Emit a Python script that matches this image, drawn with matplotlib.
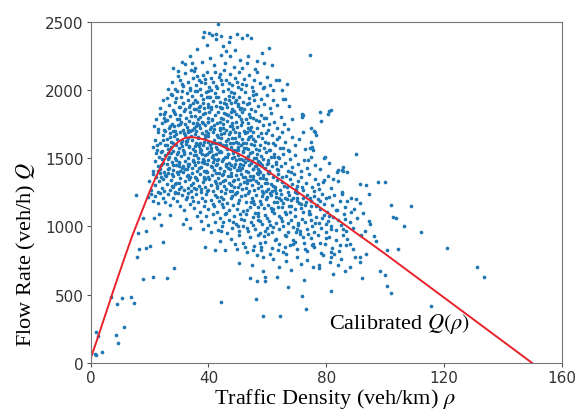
import numpy as np
import matplotlib
matplotlib.use("Agg")
import matplotlib.pyplot as plt

plt.rcParams["mathtext.fontset"] = "stix"

# calibrated fundamental diagram Q(rho)
curve_rho = [0, 2, 5, 8, 11, 14, 17, 20, 22, 24, 26, 28, 30, 32, 34, 36, 38, 40, 43, 46,
             50, 54, 58, 62, 66, 70, 75, 80, 85, 90, 95, 100, 110, 120, 130, 140, 150]
curve_q = [35, 160, 355, 550, 740, 925, 1090, 1255, 1355, 1445, 1525, 1585, 1625, 1648, 1655, 1650, 1640, 1628, 1605, 1575,
           1535, 1490, 1438, 1378, 1318, 1258, 1183, 1108, 1033, 955, 878, 800, 640, 480, 320, 160, 0]

# observed (density, flow) points, grouped by flow band
top_pts = [(43.1, 2483), (38.5, 2427), (40.2, 2415), (41.3, 2400), (42.4, 2410), (44.3, 2398), (42.7, 2376),
           (47.3, 2388), (47.1, 2352), (49.8, 2410), (51.3, 2384), (53.0, 2402), (54.5, 2380), (38.0, 2385),
           (46.0, 2288), (44.3, 2256), (33.7, 2248), (37.7, 2207), (40.5, 2232), (47.3, 2252), (50.7, 2222),
           (53.0, 2200), (31.1, 2203), (60.6, 2306), (74.5, 2256), (58.1, 2270), (53.5, 2250), (59.0, 2195),
           (55.8, 2155), (32.0, 2188), (29.5, 2142), (35.6, 2160), (42.0, 2180), (45.5, 2195), (48.8, 2170),
           (51.5, 2160), (36.2, 2300), (39.5, 2330), (45.0, 2322), (49.0, 2290), (56.5, 2215), (61.5, 2180),
           (34.5, 2195), (27.8, 2160)]

band_2000 = [(26.2, 2010), (27.5, 2060), (28.6, 2007), (29.8, 2100), (30.3, 2073), (31.5, 2030), (32.2, 2125),
             (33.0, 2055), (33.8, 2012), (34.6, 2090), (35.2, 2140), (35.9, 2040), (36.7, 2075), (37.3, 2005),
             (38.1, 2112), (38.8, 2050), (39.4, 2135), (40.1, 2020), (40.9, 2085), (41.6, 2060), (42.3, 2130),
             (43.0, 2015), (43.7, 2098), (44.5, 2045), (45.2, 2145), (45.9, 2070), (46.6, 2010), (47.4, 2115),
             (48.1, 2035), (48.9, 2090), (49.6, 2060), (50.4, 2128), (51.2, 2005), (52.0, 2080), (52.9, 2040),
             (53.8, 2110), (54.7, 2020), (55.6, 2075), (56.6, 2135), (57.5, 2050), (58.6, 2012), (59.8, 2095),
             (61.0, 2040), (61.8, 2000), (63.0, 2073), (63.9, 2073), (64.9, 2000), (66.8, 2044), (36.0, 2100),
             (41.0, 2000), (44.0, 2118), (47.0, 2050), (50.0, 2025), (39.0, 2080), (34.0, 2145)]

band_1850 = [(23.5, 1870), (24.6, 1925), (25.8, 1941), (26.5, 1890), (27.2, 1968), (27.9, 1855), (28.7, 1915),
             (29.4, 1990), (30.0, 1872), (30.7, 1948), (31.3, 1905), (32.0, 1862), (32.6, 1978), (33.2, 1925),
             (33.9, 1888), (34.5, 1955), (35.0, 1858), (35.6, 1995), (36.2, 1910), (36.8, 1875), (37.4, 1962),
             (38.0, 1932), (38.6, 1868), (39.1, 1985), (39.7, 1900), (40.3, 1945), (40.9, 1860), (41.5, 1922),
             (42.1, 1975), (42.7, 1885), (43.3, 1952), (43.9, 1910), (44.5, 1865), (45.1, 1992), (45.7, 1935),
             (46.3, 1878), (46.9, 1958), (47.5, 1902), (48.1, 1862), (48.7, 1978), (49.3, 1930), (49.9, 1885),
             (50.5, 1950), (51.1, 1868), (51.8, 1915), (52.5, 1982), (53.2, 1895), (53.9, 1940), (54.6, 1862),
             (55.4, 1925), (56.2, 1970), (57.0, 1880), (57.9, 1935), (58.8, 1900), (59.8, 1962), (60.9, 1870),
             (62.0, 1925), (63.3, 1888), (65.4, 1934), (66.0, 1934), (67.4, 1885), (31.0, 1995), (37.0, 1880),
             (40.0, 1990), (44.0, 1872), (47.0, 1925), (50.0, 1900), (35.3, 1930), (42.5, 1950), (38.3, 1902),
             (46.0, 1898), (52.0, 1858), (29.0, 1940), (33.5, 1872), (55.0, 1995), (39.5, 1950)]

band_1700 = [(21.6, 1738), (22.3, 1790), (22.9, 1712), (23.5, 1825), (24.1, 1760), (24.8, 1705), (25.4, 1842),
             (26.0, 1778), (26.5, 1722), (27.1, 1808), (27.6, 1750), (28.2, 1835), (28.7, 1702), (29.2, 1785),
             (29.8, 1740), (30.3, 1820), (30.8, 1765), (31.3, 1710), (31.8, 1848), (32.3, 1795), (32.8, 1728),
             (33.3, 1772), (33.8, 1835), (34.3, 1705), (34.8, 1755), (35.3, 1812), (35.8, 1738), (36.3, 1790),
             (36.8, 1845), (37.3, 1718), (37.8, 1768), (38.3, 1825), (38.8, 1745), (39.3, 1702), (39.8, 1798),
             (40.3, 1840), (40.8, 1732), (41.3, 1780), (41.8, 1712), (42.3, 1818), (42.8, 1760), (43.3, 1842),
             (43.8, 1725), (44.3, 1792), (44.8, 1748), (45.3, 1830), (45.8, 1705), (46.3, 1775), (46.8, 1815),
             (47.3, 1738), (47.8, 1800), (48.3, 1715), (48.8, 1848), (49.3, 1762), (49.8, 1728), (50.3, 1808),
             (50.9, 1745), (51.5, 1835), (52.1, 1702), (52.7, 1785), (53.3, 1758), (53.9, 1822), (54.5, 1732),
             (55.1, 1798), (55.8, 1845), (56.5, 1718), (57.2, 1775), (57.9, 1815), (58.7, 1742), (59.5, 1795),
             (60.3, 1708), (61.2, 1830), (62.2, 1762), (63.3, 1725), (64.5, 1805), (65.8, 1748), (67.2, 1712),
             (68.5, 1790), (71.7, 1824), (71.7, 1799), (77.9, 1836), (78.2, 1770), (81.0, 1848), (81.6, 1855),
             (80.7, 1824), (72.0, 1817), (75.0, 1719), (33.0, 1705), (36.0, 1760), (39.0, 1830), (42.0, 1745),
             (45.0, 1785), (48.0, 1760), (51.0, 1790), (54.0, 1705), (30.0, 1790), (27.0, 1738), (25.0, 1798),
             (44.0, 1710), (40.0, 1768), (37.0, 1800), (35.0, 1725)]

band_1550 = [(21.3, 1580), (21.9, 1635), (22.5, 1560), (23.0, 1690), (23.6, 1612), (24.1, 1552), (24.7, 1668),
             (25.2, 1595), (25.8, 1640), (26.3, 1570), (26.8, 1685), (27.3, 1618), (27.9, 1555), (28.4, 1662),
             (28.9, 1598), (29.4, 1642), (29.9, 1575), (30.4, 1695), (30.9, 1625), (31.4, 1558), (31.9, 1672),
             (32.4, 1605), (32.9, 1650), (33.4, 1582), (33.9, 1698), (34.4, 1630), (34.9, 1565), (35.4, 1678),
             (35.9, 1610), (36.4, 1655), (36.9, 1588), (37.4, 1562), (37.9, 1688), (38.4, 1622), (38.9, 1645),
             (39.4, 1575), (39.9, 1662), (40.4, 1600), (40.9, 1555), (41.4, 1692), (41.9, 1635), (42.4, 1580),
             (42.9, 1668), (43.4, 1612), (43.9, 1552), (44.4, 1650), (44.9, 1595), (45.4, 1685), (45.9, 1628),
             (46.4, 1568), (46.9, 1675), (47.4, 1608), (47.9, 1648), (48.4, 1560), (48.9, 1695), (49.4, 1620),
             (49.9, 1585), (50.4, 1665), (50.9, 1598), (51.4, 1640), (51.9, 1555), (52.4, 1682), (52.9, 1615),
             (53.4, 1570), (53.9, 1655), (54.5, 1602), (55.1, 1690), (55.7, 1628), (56.3, 1565), (56.9, 1660),
             (57.5, 1595), (58.1, 1645), (58.8, 1578), (59.5, 1685), (60.2, 1612), (60.9, 1558), (61.7, 1668),
             (62.5, 1600), (63.3, 1642), (64.2, 1575), (65.1, 1690), (66.1, 1618), (67.2, 1560), (68.3, 1655),
             (69.5, 1598), (70.8, 1640), (72.2, 1694), (72.8, 1567), (74.5, 1572), (75.3, 1584), (75.0, 1616),
             (75.6, 1562), (76.0, 1697), (76.5, 1670), (76.2, 1694), (28.0, 1610), (31.0, 1590), (34.0, 1660),
             (37.0, 1615), (40.0, 1688), (43.0, 1570), (46.0, 1600), (49.0, 1650), (52.0, 1578), (55.0, 1640),
             (32.5, 1625), (38.2, 1595), (44.2, 1675), (50.2, 1610), (26.0, 1600), (35.7, 1700), (47.7, 1585),
             (41.2, 1610), (29.0, 1680), (53.0, 1695)]

band_1400 = [(21.3, 1410), (21.8, 1480), (22.2, 1535), (22.7, 1445), (23.1, 1510), (23.6, 1420), (24.0, 1545),
             (24.5, 1468), (24.9, 1402), (25.4, 1522), (25.8, 1455), (26.3, 1495), (26.7, 1430), (27.2, 1540),
             (27.6, 1475), (28.1, 1412), (28.5, 1505), (29.0, 1448), (29.4, 1530), (29.9, 1465), (30.3, 1405),
             (30.8, 1515), (31.2, 1440), (31.7, 1548), (32.1, 1482), (32.6, 1418), (33.0, 1500), (33.5, 1458),
             (33.9, 1535), (34.4, 1425), (34.8, 1490), (35.3, 1448), (35.7, 1525), (36.2, 1405), (36.6, 1470),
             (37.1, 1542), (37.5, 1435), (38.0, 1498), (38.4, 1462), (38.9, 1520), (39.3, 1410), (39.8, 1485),
             (40.2, 1545), (40.7, 1440), (41.1, 1508), (41.6, 1470), (42.0, 1415), (42.5, 1530), (42.9, 1455),
             (43.4, 1495), (43.8, 1428), (44.3, 1548), (44.7, 1478), (45.2, 1408), (45.6, 1512), (46.1, 1445),
             (46.5, 1528), (47.0, 1465), (47.4, 1420), (47.9, 1502), (48.3, 1540), (48.8, 1438), (49.2, 1488),
             (49.7, 1412), (50.1, 1525), (50.6, 1458), (51.0, 1498), (51.5, 1430), (51.9, 1545), (52.4, 1472),
             (52.8, 1405), (53.3, 1515), (53.7, 1448), (54.2, 1535), (54.6, 1465), (55.1, 1418), (55.5, 1505),
             (56.0, 1440), (56.4, 1530), (56.9, 1480), (57.3, 1410), (57.8, 1518), (58.2, 1452), (58.7, 1495),
             (59.1, 1425), (59.6, 1542), (60.1, 1468), (60.6, 1408), (61.1, 1510), (61.6, 1445), (62.2, 1532),
             (62.8, 1475), (63.4, 1418), (64.0, 1500), (64.7, 1440), (65.4, 1528), (66.1, 1462), (66.9, 1410),
             (67.7, 1495), (68.5, 1435), (69.4, 1520), (70.3, 1455), (71.3, 1405), (72.4, 1485), (73.6, 1430),
             (74.9, 1512), (76.3, 1448), (79.3, 1499), (79.6, 1507), (83.9, 1416), (85.3, 1416), (85.8, 1438),
             (85.6, 1409), (90.3, 1531), (77.8, 1420), (81.0, 1465), (30.0, 1470), (33.2, 1440), (36.5, 1500),
             (39.5, 1455), (42.8, 1485), (45.8, 1460), (48.6, 1510), (51.7, 1450), (54.9, 1480), (57.6, 1462),
             (27.8, 1450), (35.0, 1520), (38.6, 1410), (44.0, 1432), (50.4, 1435), (60.4, 1490), (24.2, 1495),
             (31.9, 1418), (41.4, 1525), (47.6, 1448), (53.5, 1488), (56.7, 1422), (63.0, 1455), (37.8, 1475)]

band_1250 = [(19.9, 1335), (21.3, 1384), (20.6, 1270), (21.8, 1305), (22.3, 1362), (22.7, 1255), (23.2, 1330),
             (23.6, 1390), (24.1, 1282), (24.5, 1348), (25.0, 1262), (25.4, 1375), (25.9, 1310), (26.3, 1395),
             (26.8, 1270), (27.2, 1340), (27.7, 1298), (28.1, 1368), (28.6, 1252), (29.0, 1322), (29.5, 1385),
             (29.9, 1278), (30.4, 1355), (30.8, 1290), (31.3, 1398), (31.7, 1265), (32.2, 1332), (32.6, 1372),
             (33.1, 1285), (33.5, 1348), (34.0, 1258), (34.4, 1390), (34.9, 1315), (35.3, 1365), (35.8, 1275),
             (36.2, 1338), (36.7, 1295), (37.1, 1382), (37.6, 1255), (38.0, 1325), (38.5, 1360), (38.9, 1288),
             (39.4, 1398), (39.8, 1268), (40.3, 1345), (40.7, 1305), (41.2, 1375), (41.6, 1260), (42.1, 1330),
             (42.5, 1392), (43.0, 1280), (43.4, 1352), (43.9, 1315), (44.3, 1258), (44.8, 1385), (45.2, 1300),
             (45.7, 1342), (46.1, 1272), (46.6, 1368), (47.0, 1320), (47.5, 1395), (47.9, 1262), (48.4, 1335),
             (48.8, 1290), (49.3, 1378), (49.7, 1252), (50.2, 1345), (50.6, 1310), (51.1, 1388), (51.5, 1275),
             (52.0, 1328), (52.4, 1362), (52.9, 1285), (53.3, 1398), (53.8, 1258), (54.2, 1340), (54.7, 1305),
             (55.1, 1372), (55.6, 1268), (56.0, 1330), (56.5, 1390), (56.9, 1282), (57.4, 1355), (57.8, 1300),
             (58.3, 1262), (58.7, 1380), (59.2, 1318), (59.6, 1350), (60.1, 1275), (60.6, 1395), (61.1, 1308),
             (61.6, 1258), (62.1, 1365), (62.7, 1290), (63.2, 1340), (63.8, 1382), (64.4, 1268), (65.0, 1325),
             (65.6, 1298), (66.2, 1372), (66.9, 1255), (67.6, 1345), (68.3, 1310), (69.0, 1388), (69.8, 1278),
             (70.6, 1335), (71.4, 1362), (72.3, 1265), (73.2, 1318), (74.2, 1385), (75.2, 1292), (76.3, 1350),
             (77.5, 1272), (78.8, 1328), (80.7, 1372), (82.2, 1348), (79.2, 1340), (85.3, 1250), (91.5, 1311),
             (93.7, 1304), (97.7, 1323), (100.0, 1323), (83.8, 1397), (87.0, 1397), (75.8, 1260), (81.5, 1285),
             (84.0, 1330), (30.0, 1320), (35.0, 1280), (40.0, 1360), (45.0, 1330), (50.0, 1290), (55.0, 1350),
             (60.0, 1320), (65.0, 1360), (33.0, 1375), (43.0, 1300), (53.0, 1318), (47.3, 1258), (38.8, 1345),
             (62.5, 1268), (57.0, 1382), (28.0, 1290), (70.0, 1300), (24.0, 1360)]

band_1100 = [(15.3, 1231), (19.5, 1215), (20.4, 1238), (21.2, 1190), (22.0, 1225), (22.9, 1172), (23.7, 1245),
             (24.5, 1205), (25.4, 1180), (26.2, 1235), (27.0, 1160), (27.8, 1212), (28.6, 1242), (29.4, 1188),
             (30.2, 1150), (30.9, 1228), (31.6, 1120), (32.3, 1198), (33.0, 1245), (33.7, 1165), (34.4, 1215),
             (35.1, 1135), (35.8, 1235), (36.5, 1180), (37.2, 1108), (37.9, 1210), (38.6, 1150), (39.3, 1240),
             (40.0, 1125), (40.7, 1195), (41.4, 1168), (42.1, 1232), (42.8, 1105), (43.5, 1185), (44.2, 1218),
             (44.9, 1140), (45.6, 1248), (46.3, 1172), (47.0, 1118), (47.7, 1205), (48.4, 1155), (49.1, 1238),
             (49.8, 1130), (50.5, 1192), (51.2, 1225), (51.9, 1110), (52.6, 1178), (53.3, 1245), (54.0, 1145),
             (54.7, 1210), (55.4, 1165), (56.1, 1232), (56.8, 1102), (57.5, 1188), (58.2, 1222), (58.9, 1135),
             (59.6, 1200), (60.3, 1158), (61.0, 1242), (61.7, 1115), (62.4, 1182), (63.1, 1218), (63.8, 1142),
             (64.5, 1235), (65.2, 1170), (65.9, 1108), (66.6, 1198), (67.3, 1228), (68.0, 1150), (68.7, 1212),
             (69.4, 1125), (70.1, 1245), (70.8, 1175), (71.5, 1138), (72.2, 1205), (72.9, 1160), (73.6, 1232),
             (74.3, 1112), (75.0, 1190), (75.7, 1222), (76.4, 1148), (77.1, 1202), (77.8, 1130), (78.6, 1240),
             (79.4, 1168), (80.2, 1105), (81.0, 1215), (81.9, 1155), (82.8, 1228), (83.7, 1122), (84.6, 1185),
             (85.5, 1240), (86.5, 1145), (87.2, 1189), (88.4, 1210), (90.3, 1201), (89.5, 1130), (92.6, 1099),
             (101.9, 1160), (108.7, 1152), (91.5, 1170), (94.5, 1240), (45.0, 1200), (50.0, 1170), (55.0, 1190),
             (60.0, 1215), (65.0, 1140), (70.0, 1185), (75.0, 1150), (48.0, 1225), (53.0, 1120), (58.0, 1165),
             (63.0, 1245), (68.0, 1195), (73.0, 1180), (39.0, 1190), (42.0, 1150), (78.0, 1190), (57.0, 1140),
             (62.0, 1130)]

band_950 = [(16.0, 955), (18.7, 964), (17.9, 1060), (21.6, 1062), (23.3, 1091), (23.8, 1013), (26.9, 1086),
            (31.2, 1018), (33.7, 989), (32.3, 1055), (36.0, 1079), (37.5, 1040), (38.3, 985), (39.1, 1075),
            (39.9, 1010), (40.7, 960), (41.5, 1090), (42.3, 1030), (43.1, 975), (43.9, 1062), (44.7, 1005),
            (45.5, 1095), (46.3, 955), (47.1, 1045), (47.9, 992), (48.7, 1080), (49.5, 1020), (50.3, 965),
            (51.1, 1058), (51.9, 1000), (52.7, 1092), (53.5, 970), (54.3, 1035), (55.1, 1072), (55.9, 985),
            (56.7, 1050), (57.5, 955), (58.3, 1015), (59.1, 1085), (59.9, 990), (60.7, 1040), (61.5, 962),
            (62.3, 1098), (63.1, 1025), (63.9, 978), (64.7, 1065), (65.5, 1002), (66.3, 1088), (67.1, 958),
            (67.9, 1048), (68.7, 995), (69.5, 1078), (70.3, 1012), (71.1, 968), (71.9, 1055), (72.7, 1030),
            (73.5, 982), (74.3, 1092), (75.1, 1005), (75.9, 960), (76.7, 1068), (77.5, 1022), (78.3, 990),
            (79.1, 1082), (79.9, 958), (80.7, 1038), (81.5, 1000), (82.3, 1070), (83.2, 975), (84.1, 1045),
            (85.0, 1010), (85.9, 1090), (86.9, 965), (88.0, 1030), (89.2, 990), (94.6, 1042), (94.9, 1018),
            (93.2, 969), (102.8, 1067), (103.6, 1060), (106.4, 1006), (90.5, 1060), (45.0, 1030), (50.0, 1000),
            (55.0, 1010), (60.0, 1060), (65.0, 1040), (70.0, 985), (75.0, 1045), (52.0, 1050), (62.0, 995),
            (67.0, 1025), (80.0, 1015), (57.0, 1080)]

band_800 = [(38.8, 847), (42.2, 830), (45.6, 830), (49.6, 835), (55.0, 827), (24.5, 884), (20.1, 859),
            (18.7, 842), (16.5, 835), (47.5, 905), (49.0, 870), (50.5, 935), (51.8, 880), (53.0, 812),
            (54.2, 920), (55.5, 858), (56.8, 940), (58.0, 825), (59.2, 890), (60.4, 945), (61.6, 842),
            (62.8, 905), (64.0, 870), (65.2, 815), (66.4, 930), (67.6, 862), (68.8, 900), (70.0, 832),
            (71.2, 945), (72.4, 880), (73.6, 818), (74.8, 912), (76.0, 850), (77.2, 935), (78.4, 808),
            (79.6, 875), (80.8, 925), (82.0, 845), (83.2, 898), (84.4, 822), (85.6, 940), (86.8, 862),
            (88.1, 872), (89.2, 835), (96.2, 933), (97.1, 896), (100.7, 830), (104.3, 835), (120.9, 842),
            (112.2, 962), (44.0, 895), (52.5, 850), (57.5, 878), (63.5, 828), (69.5, 890), (75.5, 870),
            (81.5, 810), (87.0, 910), (92.0, 940), (59.0, 930), (66.0, 850), (72.0, 925)]

band_650 = [(15.8, 779), (28.2, 698), (50.5, 733), (54.7, 720), (58.6, 676), (58.6, 774), (89.8, 774),
            (91.5, 774), (91.5, 738), (88.1, 701), (86.4, 676), (81.3, 738), (81.8, 774), (77.7, 694),
            (77.7, 721), (75.4, 701), (98.3, 676), (131.1, 705), (62.0, 760), (66.5, 745), (70.0, 780),
            (73.5, 755), (84.0, 720), (79.0, 790), (64.0, 705), (68.0, 680), (71.5, 725), (85.0, 760),
            (61.0, 795), (56.5, 790), (93.5, 795)]

band_low = [(17.7, 615), (21.1, 632), (25.8, 623), (54.1, 623), (56.5, 600), (59.1, 600), (63.2, 628),
            (59.2, 628), (82.2, 652), (92.1, 622), (100.0, 645), (100.7, 566), (102.2, 515), (81.6, 530),
            (71.7, 493), (56.3, 469), (133.7, 632), (44.2, 445), (72.5, 610), (67.0, 560), (58.4, 346),
            (64.3, 342), (73.2, 392), (115.5, 420), (14.7, 437), (13.7, 481), (10.7, 476), (8.8, 430),
            (6.9, 486), (11.2, 261), (9.3, 144), (8.6, 207), (3.9, 83), (1.9, 55), (1.5, 66), (2.4, 200),
            (1.7, 229)]

core_extra = [(25.3, 1702), (26.9, 1655), (28.4, 1735), (29.7, 1548), (31.6, 1682), (32.9, 1460), (34.1, 1812),
              (35.4, 1590), (36.9, 1425), (38.2, 1755), (39.6, 1530), (40.8, 1872), (42.2, 1608), (43.7, 1395),
              (44.9, 1725), (46.2, 1512), (47.6, 1838), (48.9, 1455), (50.3, 1688), (51.6, 1365), (52.8, 1572),
              (54.1, 1802), (55.3, 1418), (27.5, 1388), (29.1, 1485), (30.6, 1612), (32.1, 1752), (33.7, 1365),
              (35.1, 1472), (36.4, 1648), (37.7, 1528), (39.2, 1402), (40.5, 1712), (41.9, 1498), (43.3, 1655),
              (44.6, 1378), (46.0, 1582), (47.3, 1692), (48.7, 1342), (50.0, 1562), (51.4, 1768), (52.7, 1505),
              (54.0, 1372), (55.6, 1598), (26.1, 1535), (28.8, 1312), (31.1, 1428), (33.4, 1592), (35.9, 1352),
              (38.7, 1668), (41.1, 1438), (43.6, 1542), (45.8, 1822), (48.2, 1608), (50.8, 1412), (53.3, 1642),
              (56.2, 1505), (58.4, 1352), (60.5, 1562), (57.9, 1688), (59.8, 1458), (61.9, 1295), (63.6, 1412),
              (65.3, 1572), (30.2, 1872), (34.9, 1905), (39.8, 1765), (44.4, 1868), (49.5, 1822), (53.8, 1905),
              (36.0, 1995), (42.6, 2032), (48.4, 1952), (32.6, 1218), (37.4, 1272), (42.9, 1218), (47.5, 1302),
              (52.3, 1232), (56.9, 1318), (61.3, 1228), (66.7, 1288), (70.2, 1212)]

core_extra2 = [(22.4, 1598), (23.9, 1452), (25.1, 1772), (26.6, 1508), (27.9, 1698), (29.3, 1402), (30.5, 1748),
               (31.8, 1532), (33.1, 1692), (34.6, 1478), (35.8, 1862), (37.2, 1568), (38.5, 1348), (39.9, 1618),
               (41.2, 1788), (42.7, 1452), (43.9, 1612), (45.3, 1902), (46.7, 1428), (47.9, 1738), (49.3, 1562),
               (50.6, 1858), (51.9, 1488), (53.4, 1722), (54.8, 1548), (56.1, 1782), (57.6, 1402), (59.1, 1622),
               (60.7, 1748), (62.4, 1512), (64.1, 1658), (22.9, 1408), (24.4, 1632), (25.7, 1368), (27.3, 1582),
               (28.6, 1822), (30.1, 1442), (31.4, 1905), (32.8, 1628), (34.2, 1302), (35.6, 1552), (36.9, 1742),
               (38.4, 1482), (39.7, 1872), (41.0, 1572), (42.4, 1318), (43.8, 1768), (45.1, 1492), (46.6, 1642),
               (47.8, 1372), (49.1, 1915), (50.5, 1492), (51.8, 1612), (53.1, 1338), (54.5, 1662), (55.9, 1442),
               (57.2, 1558), (58.8, 1792), (60.3, 1392), (61.8, 1608), (63.5, 1512), (24.8, 1822), (27.7, 1962),
               (30.9, 2042), (33.6, 2002), (37.6, 2062), (40.6, 1952), (44.1, 2072), (47.7, 1982), (51.4, 2042),
               (55.2, 1962), (58.9, 2022), (29.6, 1242), (34.8, 1188), (39.5, 1262), (44.6, 1162), (49.4, 1248),
               (54.4, 1178), (59.4, 1262), (64.8, 1192), (69.4, 1252), (74.4, 1208), (26.4, 1422), (36.1, 1602),
               (46.8, 1528), (57.1, 1472), (68.1, 1398), (71.9, 1288), (77.2, 1312), (73.9, 1488), (67.3, 1552),
               (65.9, 1212)]

tail_extra = [(55.8, 1102), (57.4, 1042), (59.3, 968), (61.1, 1132), (62.6, 898), (64.1, 1078), (65.9, 935),
              (67.4, 1152), (68.9, 872), (70.6, 1022), (72.1, 1108), (73.8, 948), (75.2, 862), (76.9, 1158),
              (78.5, 1065), (80.1, 912), (81.7, 982), (83.4, 1118), (84.8, 868), (86.3, 1055), (57.9, 852),
              (60.8, 1012), (63.9, 1212), (66.2, 802), (69.7, 958), (72.8, 835), (74.6, 1092), (77.8, 882),
              (79.8, 1205), (82.6, 795), (53.2, 988), (50.6, 1088), (48.2, 1035), (46.1, 1102), (44.2, 968),
              (58.6, 1248), (63.2, 1178), (67.8, 1108), (71.4, 1168), (76.1, 1022), (80.9, 1075), (85.7, 985),
              (88.6, 1105)]

bands = [top_pts, band_2000, band_1850, band_1700, band_1550, band_1400, band_1250,
         band_1100, band_950, band_800, band_650, band_low, core_extra, core_extra2, tail_extra]
pts = np.array([p for b in bands for p in b])

fig = plt.figure(figsize=(5.76, 4.10), dpi=100)
ax = fig.add_axes([0.1575, 0.1122, 0.8175, 0.8324])

ax.scatter(pts[:, 0], pts[:, 1], s=7, color="#1f77b4", linewidths=0)
ax.plot(curve_rho, curve_q, color="#e8222b", lw=1.4)

ax.text(81, 258, r"Calibrated $Q(\rho)$", fontsize=16, family="Liberation Serif")

ax.set_xlim(0, 160)
ax.set_ylim(0, 2500)
ax.set_xticks([0, 40, 80, 120, 160])
ax.set_yticks([0, 500, 1000, 1500, 2000, 2500])
ax.tick_params(colors="#555555", labelcolor="#333333", labelsize=11, length=3, pad=2)
for sp in ax.spines.values():
    sp.set_color("#777777")

ax.set_xlabel(r"Traffic Density (veh/km) $\rho$", fontsize=16, family="Liberation Serif")
ax.set_ylabel(r"Flow Rate (veh/h) $Q$", fontsize=16, family="Liberation Serif")
ax.xaxis.set_label_coords(0.518, -0.068)
ax.yaxis.set_label_coords(-0.112, 0.32)

fig.savefig("out.png", dpi=100)
